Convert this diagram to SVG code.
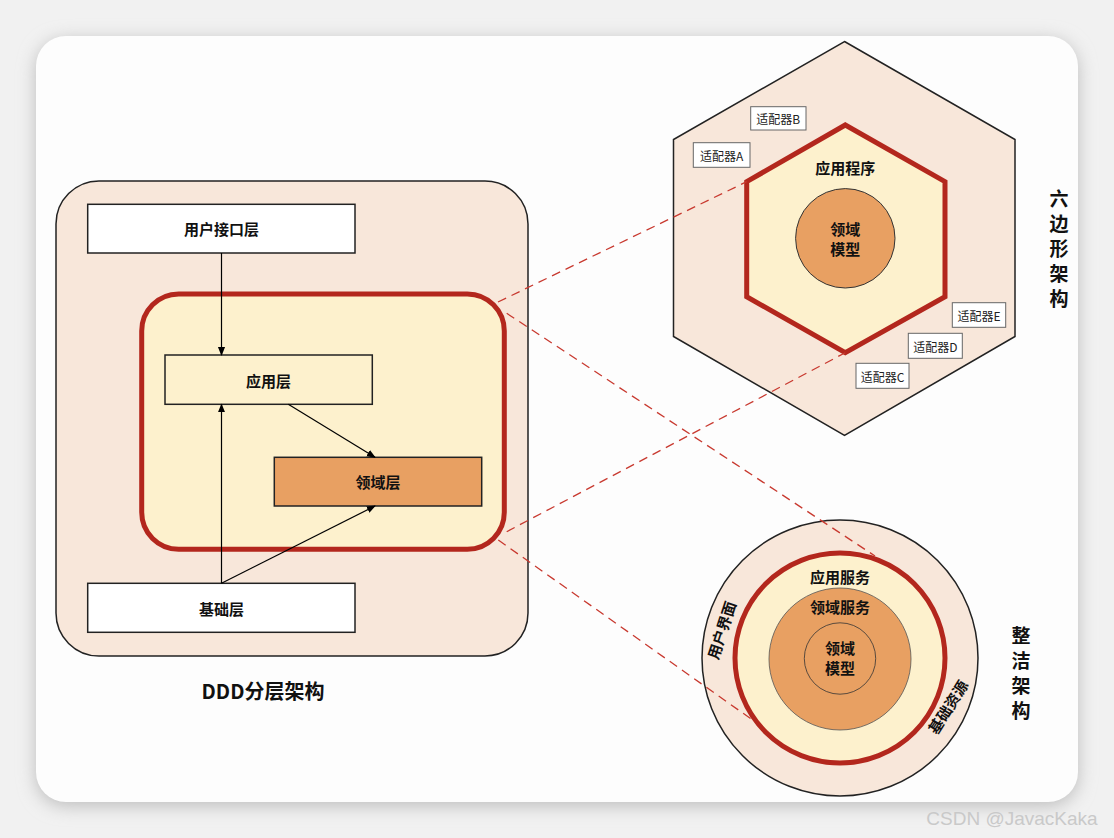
<svg xmlns="http://www.w3.org/2000/svg" width="1114" height="838" viewBox="0 0 1114 838">
<defs>
<filter id="shadow" x="-5%" y="-5%" width="110%" height="110%">
<feGaussianBlur stdDeviation="9"/>
</filter>
<marker id="arr" viewBox="0 0 10 10" refX="9" refY="5" markerWidth="9" markerHeight="9" markerUnits="userSpaceOnUse" orient="auto">
<path d="M0,1 L10,5 L0,9 Z" fill="#000"/>
</marker>
</defs>
<style>
.t{font-family:"Noto Sans CJK SC","Liberation Sans",sans-serif;font-weight:bold;fill:#111;text-anchor:middle;dominant-baseline:central}
.s{font-family:"Noto Sans CJK SC","Liberation Sans",sans-serif;font-size:12px;fill:#222;text-anchor:middle;dominant-baseline:central}
.box{stroke:#222;stroke-width:1.5}
.peach{fill:#f8e7da}
.cream{fill:#fdf1cd}
.orange{fill:#e8a062}
.red{fill:none;stroke:#b3271d;stroke-width:5}
.dash{stroke:#c8392f;stroke-width:1.3;stroke-dasharray:9 6;fill:none}
.arrow{stroke:#000;stroke-width:1.2;fill:none;marker-end:url(#arr)}
.adp{fill:#fff;stroke:#666;stroke-width:1}
</style>
<rect x="0" y="0" width="1114" height="838" fill="#f1f1f1"/>
<rect x="36" y="40" width="1042" height="766" rx="30" fill="#bdbdbd" filter="url(#shadow)"/>
<rect x="36" y="36" width="1042" height="766" rx="30" fill="#fdfdfd"/>

<g id="ddd-outer">
<rect x="56" y="181" width="472" height="475" rx="43" class="peach box"/>
</g>
<g id="ddd-core">
<rect x="141.7" y="294" width="362.6" height="255.3" rx="37" class="cream"/>
<rect x="141.7" y="294" width="362.6" height="255.3" rx="37" class="red"/>
</g>
<g id="ui-layer">
<rect x="87.7" y="204.3" width="267.3" height="48.7" fill="#fff" class="box"/>
<text x="221.5" y="228.5" class="t" font-size="15">用户接口层</text>
</g>
<g id="app-layer">
<rect x="165" y="355" width="207.3" height="49.3" class="cream box"/>
<text x="268.5" y="380" class="t" font-size="15">应用层</text>
</g>
<g id="domain-layer">
<rect x="274.3" y="457.3" width="207.4" height="48.7" class="orange box"/>
<text x="378" y="481.5" class="t" font-size="15">领域层</text>
</g>
<g id="infra-layer">
<rect x="87.7" y="583.3" width="267.3" height="49" fill="#fff" class="box"/>
<text x="221.5" y="608" class="t" font-size="15">基础层</text>
</g>
<text x="263" y="690" class="t" font-size="20">DDD分层架构</text>

<g id="hexagonal">
<polygon points="844.5,41.5 1015,139.5 1015,336.5 844.5,435.5 673.5,336.5 673.5,139.5" class="peach box"/>
<polygon points="845.3,125 945,181.7 945,296.7 845.3,352.7 746.7,296.7 746.7,181.7" class="cream"/>
<polygon points="845.3,125 945,181.7 945,296.7 845.3,352.7 746.7,296.7 746.7,181.7" class="red"/>
<circle cx="845.3" cy="238.3" r="49.7" class="orange" stroke="#333" stroke-width="1"/>
<text x="845.3" y="167" class="t" font-size="15">应用程序</text>
<text x="845.3" y="228" class="t" font-size="15">领域</text>
<text x="845.3" y="248.5" class="t" font-size="15">模型</text>
</g>
<g id="adapter-a"><rect x="693.3" y="142.7" width="56.7" height="24.6" class="adp"/><text x="721.7" y="155.5" class="s">适配器A</text></g>
<g id="adapter-b"><rect x="750.7" y="106.7" width="55.3" height="23.3" class="adp"/><text x="778.3" y="118.5" class="s">适配器B</text></g>
<g id="adapter-e"><rect x="952.3" y="302.7" width="53.4" height="24.6" class="adp"/><text x="979" y="315.2" class="s">适配器E</text></g>
<g id="adapter-d"><rect x="908.3" y="333.3" width="54" height="25" class="adp"/><text x="935.3" y="346" class="s">适配器D</text></g>
<g id="adapter-c"><rect x="856" y="363.3" width="53" height="25" class="adp"/><text x="882.5" y="376" class="s">适配器C</text></g>
<g id="hex-title">
<text x="1059" y="197" class="t" font-size="19">六</text>
<text x="1059" y="222" class="t" font-size="19">边</text>
<text x="1059" y="247" class="t" font-size="19">形</text>
<text x="1059" y="272" class="t" font-size="19">架</text>
<text x="1059" y="297" class="t" font-size="19">构</text>
</g>

<g id="clean">
<circle cx="840" cy="658" r="138" class="peach box"/>
<circle cx="840" cy="658" r="105" class="cream"/>
<circle cx="840" cy="658" r="105" class="red"/>
<circle cx="840" cy="659" r="71" class="orange" stroke="#555" stroke-width="0.8"/>
<circle cx="840" cy="658.5" r="35.7" fill="none" stroke="#333" stroke-width="0.8"/>
<text x="840" y="576" class="t" font-size="15">应用服务</text>
<text x="840" y="606" class="t" font-size="15">领域服务</text>
<text x="840" y="647" class="t" font-size="15">领域</text>
<text x="840" y="667.5" class="t" font-size="15">模型</text>
<text x="721" y="630" class="t" font-size="15" transform="rotate(-72 721 630)">用户界面</text>
<text x="947.5" y="706.7" class="t" font-size="15" transform="rotate(-58 947.5 706.7)">基础资源</text>
</g>
<g id="clean-title">
<text x="1021" y="634" class="t" font-size="19">整</text>
<text x="1021" y="659" class="t" font-size="19">洁</text>
<text x="1021" y="684" class="t" font-size="19">架</text>
<text x="1021" y="709" class="t" font-size="19">构</text>
</g>

<g id="connectors">
<line x1="221.5" y1="253" x2="221.5" y2="355" class="arrow"/>
<line x1="221.5" y1="583.3" x2="221.5" y2="404.3" class="arrow"/>
<line x1="288.3" y1="404.3" x2="375" y2="457.3" class="arrow"/>
<line x1="221.5" y1="583.3" x2="375" y2="506" class="arrow"/>
<line x1="498" y1="302" x2="746.7" y2="181.7" class="dash"/>
<line x1="506.7" y1="313.3" x2="875" y2="556" class="dash"/>
<line x1="506.7" y1="531.7" x2="845.3" y2="352.7" class="dash"/>
<line x1="498.3" y1="540" x2="755" y2="721.7" class="dash"/>
</g>
<text x="1012" y="818" font-family="Liberation Sans,Arial,sans-serif" font-size="19" fill="#c9c9c9" text-anchor="middle" dominant-baseline="central">CSDN @JavacKaka</text>
</svg>
